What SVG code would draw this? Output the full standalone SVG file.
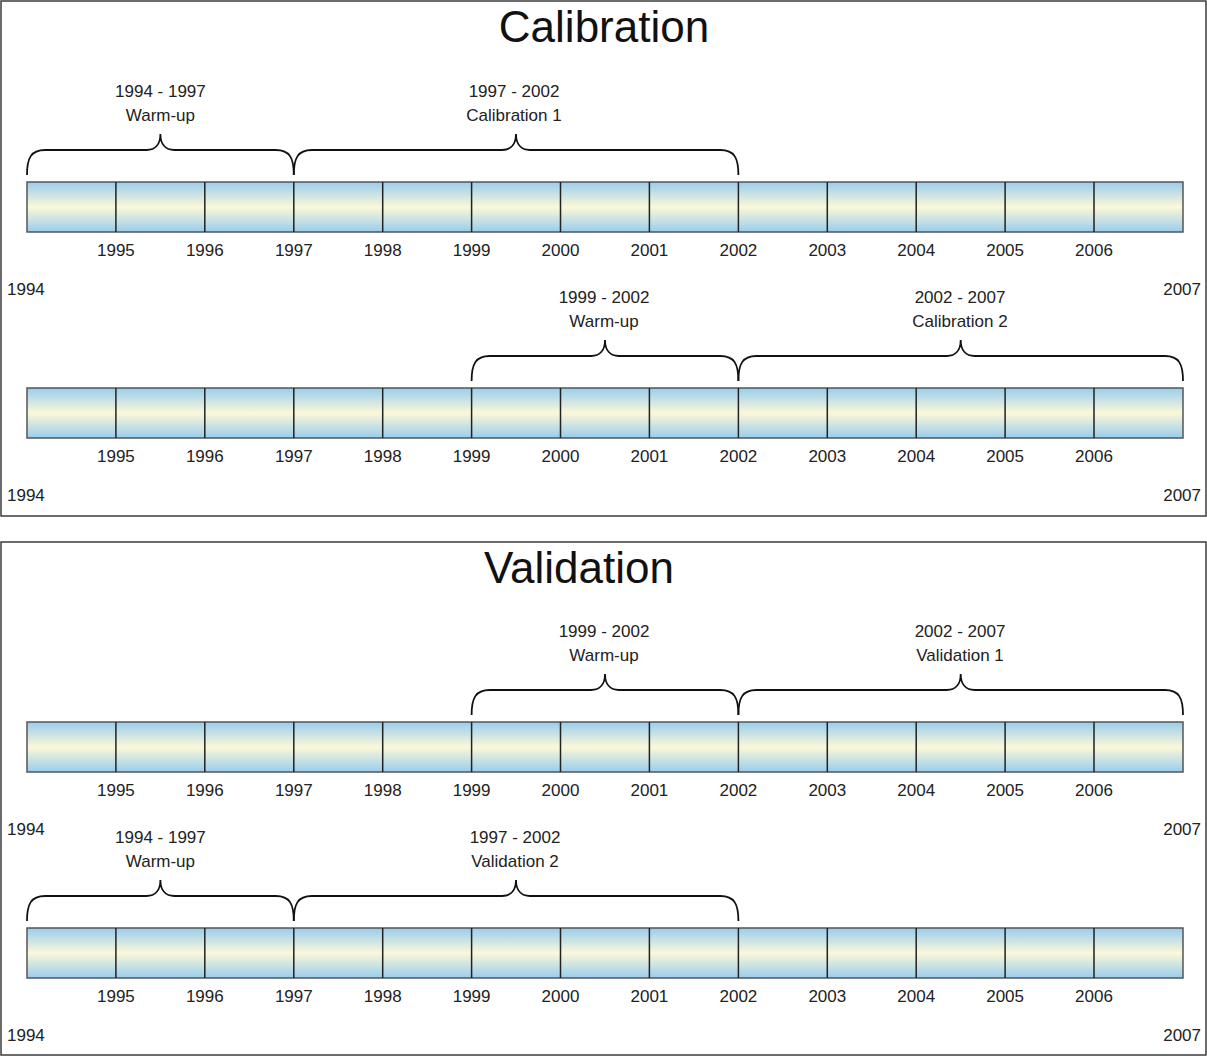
<svg xmlns="http://www.w3.org/2000/svg" xmlns:xlink="http://www.w3.org/1999/xlink" width="1207" height="1056" viewBox="0 0 1207 1056">
<style>
.panel{fill:#fff;stroke:#3c3c3c;stroke-width:1.5}
.title{font-family:"Liberation Sans",Arial,sans-serif;font-size:44px;fill:#111;text-anchor:middle}
.yr{font-family:"Liberation Sans",Arial,sans-serif;font-size:17px;fill:#222;text-anchor:middle}
.end{font-family:"Liberation Sans",Arial,sans-serif;font-size:17px;fill:#222}
.lbl{font-family:"Liberation Sans",Arial,sans-serif;font-size:17px;fill:#222;text-anchor:middle}
.bar{fill:url(#g);stroke:#555;stroke-width:1.5}
.div{stroke:#222;stroke-width:1.5}
.brace{fill:none;stroke:#111;stroke-width:1.8}
</style>
<defs>
<linearGradient id="g" x1="0" y1="0" x2="0" y2="1">
<stop offset="0" stop-color="#98cdee"/>
<stop offset="0.5" stop-color="#fcf8d9"/>
<stop offset="1" stop-color="#98cdee"/>
</linearGradient>
<g id="timeline">
<rect class="bar" x="27" y="0" width="1156" height="50"/>
<path class="div" d="M115.9,0V50M204.8,0V50M293.8,0V50M382.7,0V50M471.6,0V50M560.5,0V50M649.4,0V50M738.4,0V50M827.3,0V50M916.2,0V50M1005.1,0V50M1094,0V50"/>
<text class="yr" x="115.9" y="74">1995</text>
<text class="yr" x="204.8" y="74">1996</text>
<text class="yr" x="293.8" y="74">1997</text>
<text class="yr" x="382.7" y="74">1998</text>
<text class="yr" x="471.6" y="74">1999</text>
<text class="yr" x="560.5" y="74">2000</text>
<text class="yr" x="649.4" y="74">2001</text>
<text class="yr" x="738.4" y="74">2002</text>
<text class="yr" x="827.3" y="74">2003</text>
<text class="yr" x="916.2" y="74">2004</text>
<text class="yr" x="1005.1" y="74">2005</text>
<text class="yr" x="1094" y="74">2006</text>
<text class="end" x="7" y="113">1994</text>
<text class="end" x="1201" y="113" text-anchor="end">2007</text>
</g>
</defs>

<rect class="panel" x="1" y="1" width="1205" height="515"/>
<rect class="panel" x="1" y="542" width="1205" height="513"/>
<text class="title" x="604" y="42">Calibration</text>
<text class="title" x="579" y="583">Validation</text>

<g id="bar-cal1" transform="translate(0,182)"><use xlink:href="#timeline" href="#timeline"/></g>
<g id="bar-cal2" transform="translate(0,388)"><use xlink:href="#timeline" href="#timeline"/></g>
<g id="bar-val1" transform="translate(0,722)"><use xlink:href="#timeline" href="#timeline"/></g>
<g id="bar-val2" transform="translate(0,928)"><use xlink:href="#timeline" href="#timeline"/></g>

<g id="connectors">
<g transform="translate(0,182)">
<path class="brace" d="M27,-7C27,-24 31,-32 45,-32L146.4,-32C155.4,-32 160.4,-38 160.4,-48C160.4,-38 165.4,-32 174.4,-32L275.8,-32C289.8,-32 293.8,-24 293.8,-7"/>
<path class="brace" d="M293.8,-7C293.8,-24 297.8,-32 311.8,-32L502,-32C511,-32 516,-38 516,-48C516,-38 521,-32 530,-32L720.4,-32C734.4,-32 738.4,-24 738.4,-7"/>
</g>
<g transform="translate(0,388)">
<path class="brace" d="M471.6,-7C471.6,-24 475.6,-32 489.6,-32L591,-32C600,-32 605,-38 605,-48C605,-38 610,-32 619,-32L720.4,-32C734.4,-32 738.4,-24 738.4,-7"/>
<path class="brace" d="M738.4,-7C738.4,-24 742.4,-32 756.4,-32L946.7,-32C955.7,-32 960.7,-38 960.7,-48C960.7,-38 965.7,-32 974.7,-32L1165,-32C1179,-32 1183,-24 1183,-7"/>
</g>
<g transform="translate(0,722)">
<path class="brace" d="M471.6,-7C471.6,-24 475.6,-32 489.6,-32L591,-32C600,-32 605,-38 605,-48C605,-38 610,-32 619,-32L720.4,-32C734.4,-32 738.4,-24 738.4,-7"/>
<path class="brace" d="M738.4,-7C738.4,-24 742.4,-32 756.4,-32L946.7,-32C955.7,-32 960.7,-38 960.7,-48C960.7,-38 965.7,-32 974.7,-32L1165,-32C1179,-32 1183,-24 1183,-7"/>
</g>
<g transform="translate(0,928)">
<path class="brace" d="M27,-7C27,-24 31,-32 45,-32L146.4,-32C155.4,-32 160.4,-38 160.4,-48C160.4,-38 165.4,-32 174.4,-32L275.8,-32C289.8,-32 293.8,-24 293.8,-7"/>
<path class="brace" d="M293.8,-7C293.8,-24 297.8,-32 311.8,-32L502,-32C511,-32 516,-38 516,-48C516,-38 521,-32 530,-32L720.4,-32C734.4,-32 738.4,-24 738.4,-7"/>
</g>
</g>

<g id="labels">
<g id="lbl-cal-warm">
<text class="lbl" x="160.4" y="97">1994 - 1997</text>
<text class="lbl" x="160.4" y="121">Warm-up</text>
</g>
<g id="lbl-cal1">
<text class="lbl" x="514" y="97">1997 - 2002</text>
<text class="lbl" x="514" y="121">Calibration 1</text>
</g>
<g id="lbl-cal2-warm">
<text class="lbl" x="604" y="303">1999 - 2002</text>
<text class="lbl" x="604" y="327">Warm-up</text>
</g>
<g id="lbl-cal2">
<text class="lbl" x="960" y="303">2002 - 2007</text>
<text class="lbl" x="960" y="327">Calibration 2</text>
</g>
<g id="lbl-val1-warm">
<text class="lbl" x="604" y="637">1999 - 2002</text>
<text class="lbl" x="604" y="661">Warm-up</text>
</g>
<g id="lbl-val1">
<text class="lbl" x="960" y="637">2002 - 2007</text>
<text class="lbl" x="960" y="661">Validation 1</text>
</g>
<g id="lbl-val2-warm">
<text class="lbl" x="160.4" y="843">1994 - 1997</text>
<text class="lbl" x="160.4" y="867">Warm-up</text>
</g>
<g id="lbl-val2">
<text class="lbl" x="515" y="843">1997 - 2002</text>
<text class="lbl" x="515" y="867">Validation 2</text>
</g>
</g>
</svg>
